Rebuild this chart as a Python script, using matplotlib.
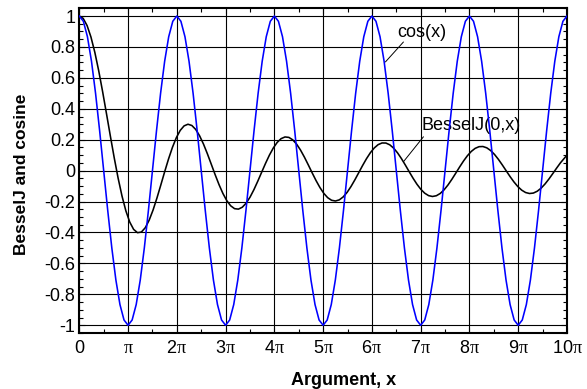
import numpy as np
import matplotlib
matplotlib.use("Agg")
import matplotlib.pyplot as plt
from matplotlib.ticker import MultipleLocator

plt.rcParams['font.family'] = ['Liberation Sans', 'DejaVu Sans']
plt.rcParams['mathtext.fontset'] = 'custom'
plt.rcParams['mathtext.rm'] = 'Liberation Sans'
plt.rcParams['mathtext.it'] = 'Liberation Serif'

# cos(x), read every pi/12 from 0 to 10*pi
cos_x = np.linspace(0, 10 * np.pi, 121)
cos_y = [
    1.0, 0.9659, 0.866, 0.7071, 0.5, 0.2588, 0.0, -0.2588, -0.5, -0.7071, -0.866, -0.9659,
    -1.0, -0.9659, -0.866, -0.7071, -0.5, -0.2588, 0.0, 0.2588, 0.5, 0.7071, 0.866, 0.9659,
    1.0, 0.9659, 0.866, 0.7071, 0.5, 0.2588, 0.0, -0.2588, -0.5, -0.7071, -0.866, -0.9659,
    -1.0, -0.9659, -0.866, -0.7071, -0.5, -0.2588, 0.0, 0.2588, 0.5, 0.7071, 0.866, 0.9659,
    1.0, 0.9659, 0.866, 0.7071, 0.5, 0.2588, 0.0, -0.2588, -0.5, -0.7071, -0.866, -0.9659,
    -1.0, -0.9659, -0.866, -0.7071, -0.5, -0.2588, 0.0, 0.2588, 0.5, 0.7071, 0.866, 0.9659,
    1.0, 0.9659, 0.866, 0.7071, 0.5, 0.2588, 0.0, -0.2588, -0.5, -0.7071, -0.866, -0.9659,
    -1.0, -0.9659, -0.866, -0.7071, -0.5, -0.2588, 0.0, 0.2588, 0.5, 0.7071, 0.866, 0.9659,
    1.0, 0.9659, 0.866, 0.7071, 0.5, 0.2588, 0.0, -0.2588, -0.5, -0.7071, -0.866, -0.9659,
    -1.0, -0.9659, -0.866, -0.7071, -0.5, -0.2588, 0.0, 0.2588, 0.5, 0.7071, 0.866, 0.9659,
    1.0,
]

# BesselJ(0,x), read every 0.25 from 0 to 31, then the end at 10*pi
bessel_x = np.concatenate([np.arange(0, 31.01, 0.25), [10 * np.pi]])
bessel_y = [
    1.0, 0.9844, 0.9385, 0.8642, 0.7652, 0.6459, 0.5118, 0.369, 0.2239,
    0.0827, -0.0484, -0.1641, -0.2601, -0.3328, -0.3801, -0.4014, -0.3971,
    -0.3692, -0.3205, -0.2551, -0.1776, -0.0931, -0.0068, 0.076, 0.1506,
    0.2131, 0.2601, 0.2895, 0.3001, 0.292, 0.2663, 0.2252, 0.1717,
    0.1092, 0.0419, -0.026, -0.0903, -0.1474, -0.1939, -0.2273, -0.2459,
    -0.249, -0.2366, -0.2101, -0.1712, -0.1227, -0.0677, -0.0097, 0.0477,
    0.101, 0.1469, 0.1829, 0.2069, 0.2178, 0.215, 0.1991, 0.1711,
    0.1331, 0.0875, 0.0374, -0.0142, -0.0641, -0.1092, -0.1469, -0.1749,
    -0.1917, -0.1964, -0.189, -0.1699, -0.1407, -0.1031, -0.0598, -0.0134,
    0.0333, 0.0772, 0.1158, 0.1466, 0.1681, 0.1789, 0.1785, 0.167,
    0.1454, 0.1151, 0.0781, 0.0366, -0.0067, -0.049, -0.0878, -0.1207,
    -0.1458, -0.1616, -0.1672, -0.1624, -0.1477, -0.1239, -0.0928, -0.0562,
    -0.0166, 0.0237, 0.0621, 0.0963, 0.1242, 0.1441, 0.1549, 0.156,
    0.1475, 0.1299, 0.1044, 0.0727, 0.0368, -0.001, -0.0385, -0.0732,
    -0.1031, -0.1263, -0.1416, -0.1479, -0.1451, -0.1332, -0.1132, -0.0864,
    -0.0545, -0.0194, 0.0166, 0.0512,
    0.1003,
]

x_ticks = np.arange(11) * np.pi
x_tick_labels = ['$0$', r'$\pi$', r'$2\pi$', r'$3\pi$', r'$4\pi$', r'$5\pi$',
                 r'$6\pi$', r'$7\pi$', r'$8\pi$', r'$9\pi$', r'$10\pi$']
y_ticks = [1, 0.8, 0.6, 0.4, 0.2, 0, -0.2, -0.4, -0.6, -0.8, -1]
y_tick_labels = ['1', '0.8', '0.6', '0.4', '0.2', '0', '-0.2', '-0.4', '-0.6', '-0.8', '-1']

fig = plt.figure(figsize=(5.87, 3.89), dpi=100)
ax = fig.add_axes([0.1351, 0.1440, 0.8308, 0.8347])

ax.plot(bessel_x, bessel_y, color='black', lw=1.15, zorder=3)
ax.plot(cos_x, cos_y, color='#0000ff', lw=1.15, zorder=4)

ax.set_xlim(0, 10 * np.pi)
ax.set_ylim(-1.05, 1.05)

ax.set_xticks(x_ticks)
ax.set_xticklabels([''] * len(x_ticks))
ax.set_yticks(y_ticks)
ax.set_yticklabels(y_tick_labels)
ax.xaxis.set_minor_locator(MultipleLocator(np.pi / 2))
ax.yaxis.set_minor_locator(MultipleLocator(0.05))

# x tick labels: digits in sans, pi in serif, all on one baseline
for xv, lab in zip(x_ticks, x_tick_labels):
    ax.text(xv, -0.0616, lab, transform=ax.get_xaxis_transform(),
            ha='center', va='baseline', fontsize=13)

ax.tick_params(which='both', direction='in', top=True, right=True, width=0.8)
ax.tick_params(which='major', length=4, labelsize=13, pad=3)
ax.tick_params(which='minor', length=3)

ax.grid(True, which='major', color='black', lw=0.8)
ax.set_axisbelow(True)
for s in ax.spines.values():
    s.set_linewidth(1.5)

# curve labels with leader lines
ax.annotate('', xy=(19.72, 0.703), xytext=(20.88, 0.832),
            arrowprops=dict(arrowstyle='-', lw=0.7, color='black', shrinkA=0, shrinkB=0))
ax.text(20.49, 0.8645, 'cos(x)', fontsize=13, ha='left', va='baseline')
ax.annotate('', xy=(20.9, 0.06), xytext=(22.17, 0.219),
            arrowprops=dict(arrowstyle='-', lw=0.7, color='black', shrinkA=0, shrinkB=0))
ax.text(22.04, 0.2645, 'BesselJ(0,x)', fontsize=13, ha='left', va='baseline')

fig.text(0.0366, 0.5527, 'BesselJ and cosine', rotation=90, fontsize=12.5,
         fontweight='bold', ha='center', va='center')
fig.text(0.5852, 0.0103, 'Argument, x', fontsize=13, fontweight='bold',
         ha='center', va='baseline')

fig.savefig('out.png', dpi=100)
